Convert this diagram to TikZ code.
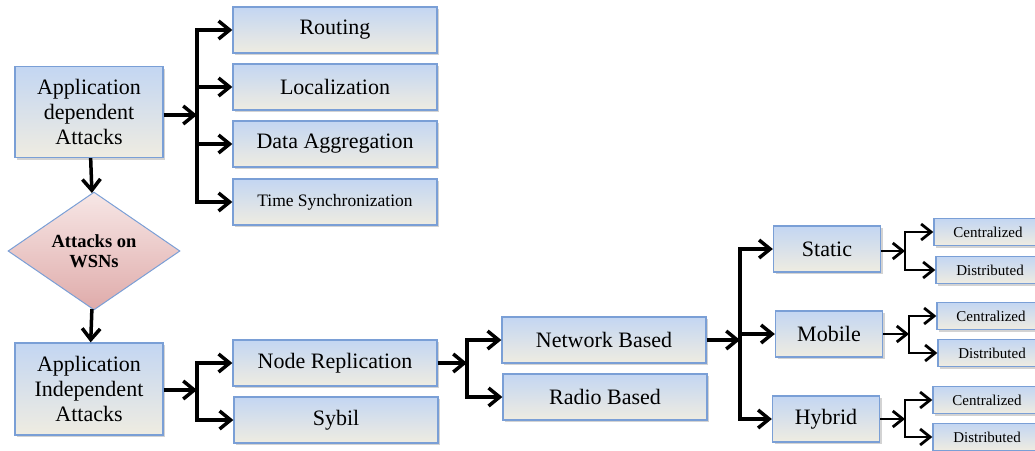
\documentclass[tikz,border=0pt]{standalone}
\usepackage{fontspec}
\setmainfont{Liberation Serif}
\usetikzlibrary{positioning}
\usetikzlibrary{shapes.geometric}
\usetikzlibrary{arrows.meta}
\usetikzlibrary{shadows}
\definecolor{boxline}{HTML}{7A9FD6}
\definecolor{boxtop}{HTML}{C3D6F2}
\definecolor{boxmid}{HTML}{F7F6F0}
\definecolor{boxbot}{HTML}{EFECE1}
\definecolor{pinktop}{HTML}{F7E7E6}
\definecolor{pinkbot}{HTML}{DFABAA}

\begin{document}
\begin{tikzpicture}[
  x=1pt, y=-1pt,
  box/.style={draw=boxline, line width=1.3pt, top color=boxtop, middle color=boxmid, bottom color=boxbot,
    drop shadow={shadow xshift=2pt, shadow yshift=-2pt, opacity=0.35},
    align=center, inner sep=0pt, minimum width=204pt, minimum height=46pt,
    font=\fontsize{22}{25}\selectfont},
  bigbox/.style={box, minimum width=148pt, minimum height=91pt},
  midbox/.style={box, minimum width=107pt},
  smallbox/.style={box, minimum width=108pt, minimum height=27pt, font=\fontsize{15}{17}\selectfont},
  decision/.style={diamond, draw=boxline, line width=1pt, top color=pinktop, bottom color=pinkbot,
    inner sep=0pt, minimum width=172pt, minimum height=102pt, align=center,
    font=\fontsize{18.5}{20}\selectfont\bfseries},
  arrow/.style={-{Straight Barb[length=11pt, width=18pt]}, line width=3.5pt},
  sarrow/.style={-{Straight Barb[length=10pt, width=16pt]}, line width=2.8pt}
]

\useasboundingbox (0,0) rectangle (1035,450);

% Application dependent side
\node[bigbox] (adep) at (89,112) {Application\\dependent\\Attacks};
\node[box] (rout) at (335,30) {Routing};
\node[box] (loc) at (335,87) {Localization};
\node[box] (aggr) at (335,144) {Data Aggregation};
\node[box, font=\fontsize{17.5}{20}\selectfont] (tsync) at (335,202) {Time Synchronization};

% Root
\node[decision] (wsn) at (94,251) {Attacks on\\WSNs};

% Application independent side
\node[bigbox, minimum height=92pt] (aind) at (89,389) {Application\\Independent\\Attacks};
\node[box] (nrep) at (335,363) {Node Replication};
\node[box] (sybil) at (336,420) {Sybil};
\node[box] (netb) at (604,340) {Network Based};
\node[box] (radb) at (605,397) {Radio Based};

% Network based schemes
\node[midbox] (stat) at (827,249) {Static};
\node[midbox] (mob) at (829,334) {Mobile};
\node[midbox] (hyb) at (826,419) {Hybrid};

\node[smallbox] (cen1) at (988,232) {Centralized};
\node[smallbox] (dis1) at (990,270) {Distributed};
\node[smallbox] (cen2) at (991,316) {Centralized};
\node[smallbox] (dis2) at (992,353) {Distributed};
\node[smallbox] (cen3) at (987,400) {Centralized};
\node[smallbox] (dis3) at (987,437) {Distributed};

% Branch points
\coordinate (j1) at (197,115);
\coordinate (j2) at (197,390);
\coordinate (j3) at (467,363);
\coordinate (j4) at (740,340);
\coordinate (j5) at (905,251);
\coordinate (j6) at (909,334);
\coordinate (j7) at (905,419);

% Vertical flow
\draw[arrow] (adep) -- (wsn);
\draw[arrow] (wsn) -- (aind);

% Branches
\draw[arrow] (adep.east |- j1) -- (j1);
\foreach \t in {rout,loc,aggr,tsync} \draw[arrow] (j1) |- (\t);

\draw[arrow] (aind.east |- j2) -- (j2);
\foreach \t in {nrep,sybil} \draw[arrow] (j2) |- (\t);

\draw[arrow] (nrep) -- (j3);
\foreach \t in {netb,radb} \draw[arrow] (j3) |- (\t);

\draw[arrow] (netb) -- (j4);
\foreach \t in {stat,mob,hyb} \draw[arrow] (j4) |- (\t);

\draw[sarrow] (stat.east |- j5) -- (j5);
\foreach \t in {cen1,dis1} \draw[sarrow] (j5) |- (\t);
\draw[sarrow] (mob) -- (j6);
\foreach \t in {cen2,dis2} \draw[sarrow] (j6) |- (\t);
\draw[sarrow] (hyb) -- (j7);
\foreach \t in {cen3,dis3} \draw[sarrow] (j7) |- (\t);

\end{tikzpicture}
\end{document}
